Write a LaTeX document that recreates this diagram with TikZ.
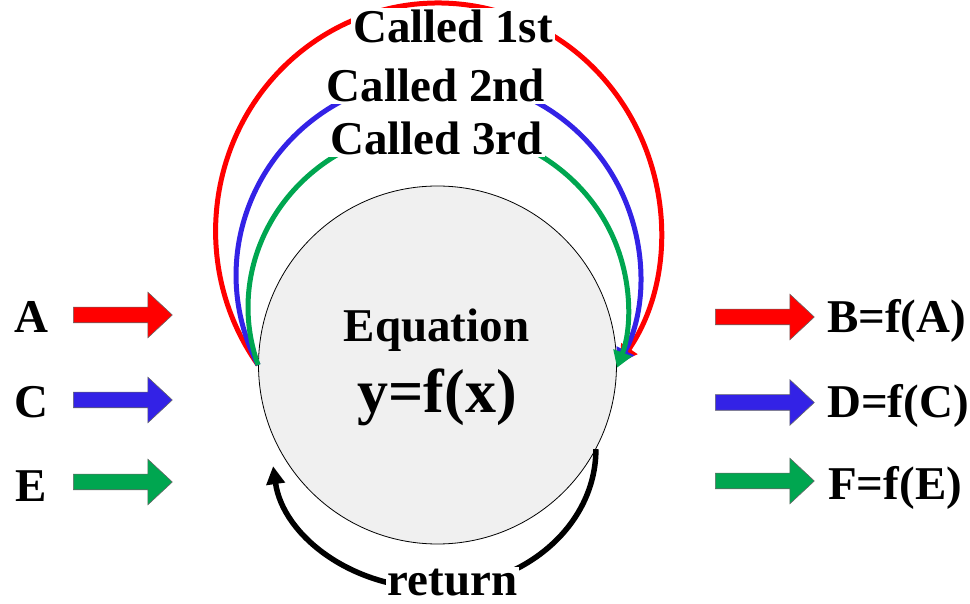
\documentclass[tikz,border=0pt]{standalone}
\usepackage{fontspec}
\setmainfont{Liberation Serif}
\usetikzlibrary{arrows.meta,shapes.arrows}
\definecolor{myred}{RGB}{255,0,0}
\definecolor{myblue}{RGB}{51,34,230}
\definecolor{mygreen}{RGB}{0,166,80}
\definecolor{eqfill}{RGB}{240,240,240}
\begin{document}
\begin{tikzpicture}[x=1pt,y=1pt,
  lbl/.style={font=\fontsize{47}{50}\selectfont\bfseries, inner sep=2pt},
  lblw/.style={lbl, fill=white},
  callarc/.style={line width=5pt, -{Triangle[length=16pt,width=19pt]}},
  retarc/.style={line width=5.5pt, -{Triangle[length=18pt,width=18pt]}},
  blockarr/.style={single arrow, draw=black!60, line width=0.6pt, inner xsep=0pt, inner ysep=7.5pt, minimum height=99pt, single arrow head extend=15pt, single arrow tip angle=86, anchor=tail},
]
\useasboundingbox (0,0) rectangle (970,603);
% main circle
\node[circle, draw, line width=0.8pt, fill=eqfill, minimum size=358pt, inner sep=0pt] (eq) at (437.5,238) {};
\node[lbl, anchor=base] (eqt) at (436.5,261) {Equation};
\node[font=\fontsize{62}{66}\selectfont\bfseries, inner sep=2pt, anchor=base] (eqf) at (437,190) {y=f(x)};
% call arcs
\draw[callarc, myred] (eq.west) arc[start angle=216, end angle=-35, x radius=222.5pt, y radius=228pt];
\draw[callarc, myblue] (eq.west) arc[start angle=207, end angle=-27, x radius=202pt, y radius=198pt];
\draw[callarc, mygreen] (eq.west) arc[start angle=198.7, end angle=-19.6, x radius=190pt, y radius=180pt];
\node[lblw, anchor=base] (c1) at (453,560) {Called 1st};
\node[lblw, anchor=base] (c2) at (436,501) {Called 2nd};
\node[lblw, anchor=base] (c3) at (436.5,448) {Called 3rd};
% return arc
\draw[retarc] (eq.-28) arc[start angle=0, end angle=-173, x radius=162pt, y radius=139pt];
\node[lblw, anchor=base] (ret) at (452.5,8) {return};
% inputs
\node[lbl, anchor=base] (inA) at (31,270) {A};
\node[lbl, anchor=base] (inC) at (31,185) {C};
\node[lbl, anchor=base] (inE) at (31,101) {E};
\node[blockarr, fill=myred] (arA) at (73,288) {};
\node[blockarr, fill=myblue] (arC) at (73,203) {};
\node[blockarr, fill=mygreen] (arE) at (73,121) {};
% outputs
\node[blockarr, fill=myred] (arB) at (715,286) {};
\node[blockarr, fill=myblue] (arD) at (715,200.5) {};
\node[blockarr, fill=mygreen] (arF) at (715,122) {};
\node[lbl, anchor=base west, inner sep=0pt] (outB) at (827,270) {B=f(A)};
\node[lbl, anchor=base west, inner sep=0pt] (outD) at (827,185) {D=f(C)};
\node[lbl, anchor=base west, inner sep=0pt] (outF) at (828,103) {F=f(E)};
\end{tikzpicture}
\end{document}
